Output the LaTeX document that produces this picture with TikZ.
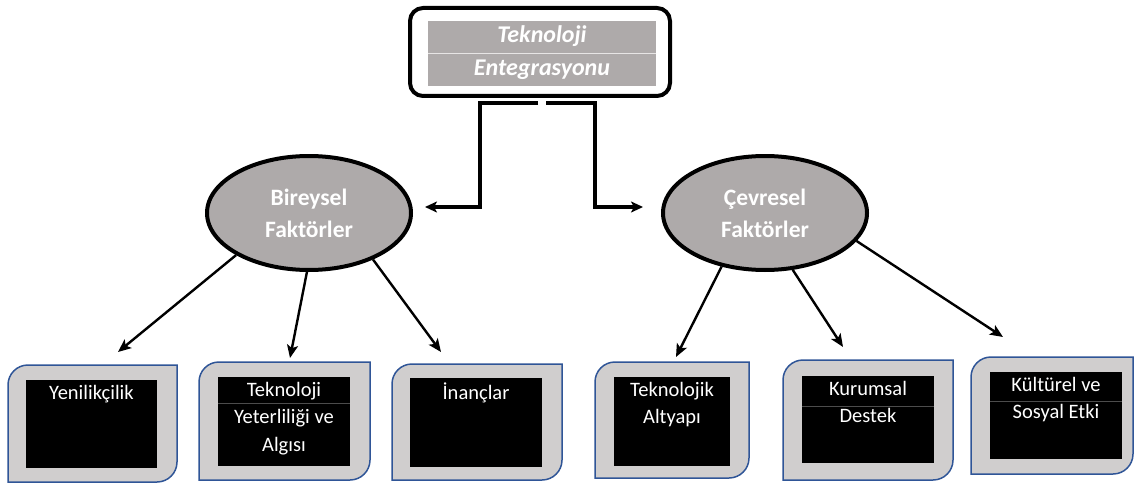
\documentclass[tikz,border=0pt]{standalone}
\usepackage{fontspec}
\setmainfont{Carlito}
\usetikzlibrary{shapes.geometric,arrows.meta,positioning,calc}
\definecolor{ovalgray}{HTML}{AEAAAA}
\definecolor{boxgray}{HTML}{D0CECE}
\definecolor{boxblue}{HTML}{2F5597}

\begin{document}
\begin{tikzpicture}[x=1pt, y=-1pt,
  oval/.style={ellipse, draw, line width=4pt, fill=ovalgray, minimum width=204pt, minimum height=114pt,
    text=white, font=\fontsize{23.5}{32}\selectfont\bfseries, align=center, inner sep=0pt},
  arr/.style={-{Stealth[length=13pt,width=11pt,inset=3pt]}, line width=2.4pt},
  elbow/.style={-{Stealth[length=12pt,width=11pt,inset=3pt]}, line width=3.6pt},
  factor/.style={draw=boxblue, line width=1.5pt, fill=boxgray},
  factortext/.style={text=white, font=\fontsize{20.5}{27.5}\selectfont, align=center, inner sep=0pt, anchor=north},
  rowline/.style={draw=black!70, line width=0.5pt}]
\useasboundingbox (0,0) rectangle (1134,484);

% top box
\node[draw, line width=4pt, rounded corners=13pt, minimum width=260pt, minimum height=88pt, inner sep=0pt] (top) at (540,52) {};
\fill[ovalgray] (428,21) rectangle (656,86);
\draw[white!70!ovalgray, line width=0.5pt] (428,53) -- (656,53);
\node[text=white, font=\fontsize{24}{33}\selectfont\bfseries\itshape, align=center, inner sep=0pt] (toptext) at (542,53) {Teknoloji\\Entegrasyonu};

% the two groups
\node[oval] (bir) at (309,213) {Bireysel\\Faktörler};
\node[oval] (cev) at (765,213) {Çevresel\\Faktörler};

% elbows from the top box
\coordinate (lsplit) at ([shift={(-2,5)}]top.south);
\coordinate (rsplit) at ([shift={(6,5)}]top.south);
\coordinate (ltip) at (425,207);
\coordinate (rtip) at (643,207);
\draw[elbow] (lsplit) -- ++(-58,0) |- (ltip);
\draw[elbow] (rsplit) -- ++(49,0) |- (rtip);

% factor boxes: outer shape, black cell, text
\foreach \nm/\ox/\oy/\oX/\oY/\ix/\iy/\iX/\iY/\txt in {
    yen/8/365/177/482/26/380/157/468/{Yenilikçilik},
    yet/199/362/370/480/218/377/350/466/{Teknoloji\\Yeterliliği ve\\Algısı},
    ina/392/364/562/480/410/378/542/467/{İnançlar},
    alt/595/362/749/478/614/377/730/466/{Teknolojik\\Altyapı},
    kur/783/360/953/480/802/376/934/463/{Kurumsal\\Destek},
    kul/971/357/1133/474/990/372/1122/459/{Kültürel ve\\Sosyal Etki}} {
  \draw[factor] (\ox,{\oy+20}) arc (180:270:20) -- (\oX,\oy) -- (\oX,{\oY-20})
    arc (0:90:20) -- (\ox,\oY) -- cycle;
  \fill[black] (\ix,\iy) rectangle (\iX,\iY);
  \node[factortext] (\nm) at ({(\ix+\iX)/2},{\iy+5}) {\txt};
}
% row lines inside the cells
\draw[rowline] (218,403) -- (350,403);
\draw[rowline] (802,406) -- (934,406);
\draw[rowline] (990,401) -- (1122,401);

% arrows down to the factors
\coordinate (tipyen) at (118,352);
\coordinate (tipyet) at (290,358);
\coordinate (tipina) at (441,352);
\coordinate (tipalt) at (676,357);
\coordinate (tipkur) at (843,347);
\coordinate (tipkul) at (1003,337);
\draw[arr] (bir.210) -- (tipyen);
\draw[arr] (bir.268) -- (tipyet);
\draw[arr] (bir.324) -- (tipina);
\draw[arr] (cev.231) -- (tipalt);
\draw[arr] (cev.296) -- (tipkur);
\draw[arr] (cev.343) -- (tipkul);
\end{tikzpicture}
\end{document}
